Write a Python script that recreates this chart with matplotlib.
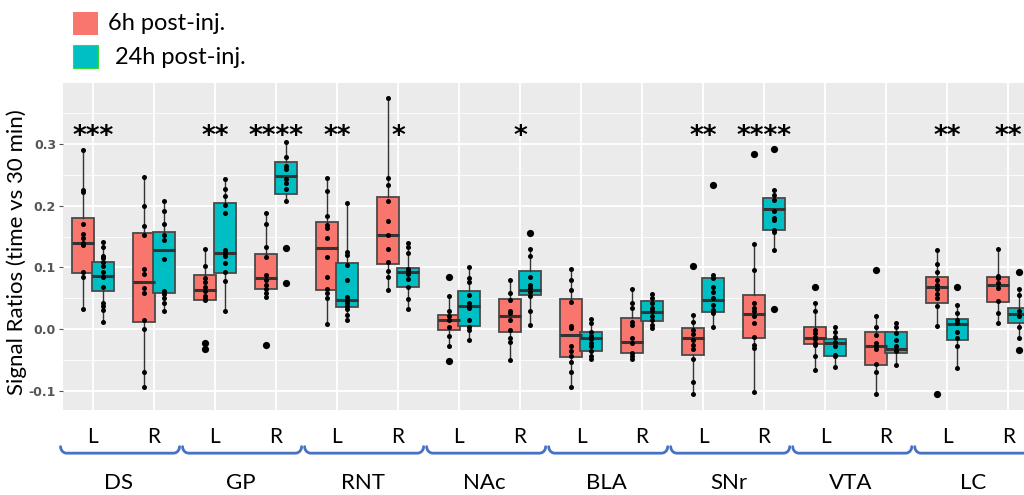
import numpy as np
import matplotlib.pyplot as plt
from matplotlib.patches import Rectangle
from matplotlib.lines import Line2D

regions = ["DS", "GP", "RNT", "NAc", "BLA", "SNr", "VTA", "LC"]
sides = ["L", "R"]
groups = ["6h post-inj.", "24h post-inj."]
colors = ["#F8766D", "#00BFC4"]

# box stats per category (DS L, DS R, GP L, ...): whislo, q1, median, q3, whishi
stats_6h = [
    [0.032, 0.091, 0.139, 0.181, 0.291],
    [-0.093, 0.011, 0.076, 0.156, 0.246],
    [0.0475, 0.0475, 0.063, 0.087, 0.130],
    [0.052, 0.065, 0.083, 0.122, 0.189],
    [0.008, 0.064, 0.132, 0.173, 0.245],
    [0.063, 0.106, 0.152, 0.214, 0.374],
    [-0.027, -0.002, 0.015, 0.023, 0.053],
    [-0.050, -0.004, 0.021, 0.049, 0.079],
    [-0.093, -0.045, -0.009, 0.049, 0.097],
    [-0.049, -0.039, -0.020, 0.018, 0.065],
    [-0.105, -0.042, -0.014, 0.002, 0.023],
    [-0.102, -0.015, 0.024, 0.055, 0.138],
    [-0.066, -0.024, -0.014, 0.004, 0.042],
    [-0.105, -0.058, -0.028, -0.005, 0.021],
    [0.005, 0.042, 0.069, 0.084, 0.128],
    [0.010, 0.044, 0.072, 0.084, 0.130],
]
stats_24h = [
    [0.011, 0.062, 0.086, 0.109, 0.142],
    [0.029, 0.059, 0.128, 0.157, 0.208],
    [0.030, 0.091, 0.124, 0.204, 0.243],
    [0.208, 0.219, 0.249, 0.271, 0.304],
    [0.015, 0.036, 0.048, 0.108, 0.204],
    [0.033, 0.068, 0.092, 0.099, 0.139],
    [-0.018, 0.005, 0.037, 0.062, 0.101],
    [0.006, 0.055, 0.064, 0.094, 0.130],
    [-0.049, -0.035, -0.014, -0.004, 0.016],
    [0.002, 0.014, 0.028, 0.045, 0.057],
    [0.003, 0.028, 0.048, 0.083, 0.088],
    [0.129, 0.161, 0.195, 0.212, 0.226],
    [-0.061, -0.043, -0.023, -0.016, 0.003],
    [-0.058, -0.038, -0.032, -0.005, 0.010],
    [-0.063, -0.018, 0.008, 0.016, 0.039],
    [-0.015, 0.010, 0.025, 0.035, 0.065],
]

# individual animals
points_6h = [
    [0.291, 0.226, 0.222, 0.170, 0.155, 0.147, 0.140, 0.136, 0.093, 0.084, 0.032],
    [0.246, 0.199, 0.167, 0.153, 0.098, 0.089, 0.066, 0.058, 0.015, 0.0, -0.069, -0.093],
    [0.130, 0.102, 0.083, 0.076, 0.069, 0.062, 0.053, 0.049, 0.047, -0.022, -0.032],
    [0.189, 0.171, 0.134, 0.117, 0.088, 0.080, 0.072, 0.065, 0.059, 0.052, -0.025],
    [0.245, 0.224, 0.183, 0.169, 0.164, 0.148, 0.117, 0.084, 0.065, 0.058, 0.050, 0.008],
    [0.374, 0.245, 0.234, 0.207, 0.176, 0.152, 0.130, 0.109, 0.095, 0.084, 0.063],
    [0.084, 0.053, 0.029, 0.022, 0.015, 0.004, -0.011, -0.027, -0.052],
    [0.079, 0.059, 0.048, 0.029, 0.026, 0.015, -0.001, -0.015, -0.020, -0.050],
    [0.097, 0.080, 0.064, 0.044, 0.005, 0.002, -0.028, -0.036, -0.044, -0.054, -0.070, -0.093],
    [0.065, 0.043, 0.034, 0.012, 0.007, -0.015, -0.023, -0.039, -0.044, -0.049],
    [0.102, 0.023, 0.012, -0.001, -0.008, -0.017, -0.025, -0.032, -0.049, -0.086, -0.105],
    [0.284, 0.138, 0.096, 0.042, 0.034, 0.029, 0.021, 0.010, -0.012, -0.025, -0.030, -0.102],
    [0.068, 0.042, 0.029, -0.002, -0.007, -0.012, -0.016, -0.022, -0.025, -0.043, -0.066],
    [0.096, 0.021, 0.003, -0.009, -0.023, -0.028, -0.032, -0.056, -0.069, -0.105],
    [0.128, 0.106, 0.092, 0.080, 0.072, 0.065, 0.057, 0.050, 0.038, 0.005, -0.105],
    [0.130, 0.086, 0.083, 0.075, 0.067, 0.045, 0.027, 0.010],
]
points_24h = [
    [0.142, 0.134, 0.119, 0.116, 0.109, 0.102, 0.092, 0.085, 0.069, 0.042, 0.037, 0.031, 0.011],
    [0.208, 0.192, 0.171, 0.153, 0.145, 0.113, 0.062, 0.057, 0.050, 0.042, 0.029],
    [0.243, 0.227, 0.216, 0.202, 0.189, 0.129, 0.123, 0.119, 0.107, 0.092, 0.078, 0.030],
    [0.304, 0.279, 0.265, 0.259, 0.243, 0.237, 0.227, 0.208, 0.132, 0.075],
    [0.204, 0.125, 0.121, 0.104, 0.080, 0.052, 0.047, 0.042, 0.037, 0.033, 0.023, 0.015],
    [0.139, 0.134, 0.123, 0.098, 0.095, 0.089, 0.081, 0.069, 0.049, 0.033],
    [0.101, 0.083, 0.076, 0.056, 0.042, 0.037, 0.034, 0.015, 0.004, -0.001, -0.018],
    [0.156, 0.130, 0.119, 0.085, 0.072, 0.067, 0.061, 0.054, 0.029, 0.006],
    [0.016, 0.010, -0.004, -0.011, -0.016, -0.023, -0.028, -0.036, -0.044, -0.049],
    [0.057, 0.050, 0.042, 0.034, 0.030, 0.021, 0.015, 0.007, 0.002],
    [0.233, 0.088, 0.083, 0.069, 0.061, 0.050, 0.039, 0.031, 0.026, 0.003],
    [0.292, 0.226, 0.218, 0.209, 0.191, 0.180, 0.177, 0.161, 0.158, 0.129, 0.033],
    [0.003, -0.004, -0.012, -0.020, -0.028, -0.042, -0.044, -0.061],
    [0.010, 0.004, -0.007, -0.017, -0.028, -0.034, -0.036, -0.058],
    [0.069, 0.039, 0.027, 0.015, 0.010, -0.004, -0.015, -0.028, -0.063],
    [0.092, 0.065, 0.056, 0.029, 0.021, 0.004, -0.015, -0.034],
]

stars = ["***", "", "**", "****", "**", "*", "", "*",
         "", "", "**", "****", "", "", "**", "**"]

plt.rcParams["font.family"] = ["Lato", "DejaVu Sans"]

fig = plt.figure(figsize=(10.24, 4.95), dpi=100)
ax = fig.add_axes([63 / 1024, 1 - 410 / 495, 1 - 63 / 1024, 327 / 495])
ax.set_facecolor("#EBEBEB")
for s in ax.spines.values():
    s.set_visible(False)

n_cat = len(regions) * len(sides)
cats = np.arange(n_cat)
offset, width = 0.17, 0.36

# grid
for y in np.arange(-0.15, 0.41, 0.05):
    major = abs(round(y / 0.1) * 0.1 - y) < 1e-6
    ax.axhline(y, color="white", lw=1.3 if major else 0.6, zorder=0)
for c in cats:
    ax.axvline(c, color="white", lw=1.3, zorder=0)

for g, (stats, pts) in enumerate([(stats_6h, points_6h), (stats_24h, points_24h)]):
    pos = cats + (-offset if g == 0 else offset)
    bxp_stats = []
    for st in stats:
        bxp_stats.append({"whislo": st[0], "q1": st[1], "med": st[2],
                          "q3": st[3], "whishi": st[4], "fliers": []})
    ax.bxp(bxp_stats, positions=pos, widths=width, patch_artist=True,
           showcaps=False, showfliers=False, manage_ticks=False,
           boxprops=dict(facecolor=colors[g], edgecolor="#4a4a4a", lw=1.3),
           medianprops=dict(color="#333333", lw=2.2),
           whiskerprops=dict(color="#333333", lw=1.0), zorder=2)
    for x, st, vals in zip(pos, stats, pts):
        vals = np.array(vals)
        out = (vals < st[0] - 1e-3) | (vals > st[4] + 1e-3)
        ax.plot(np.full((~out).sum(), x), vals[~out], "o", color="black",
                ms=3.6, mew=0, zorder=3)
        ax.plot(np.full(out.sum(), x), vals[out], "o", color="black",
                ms=5.2, mew=0, zorder=3)

for c, s in zip(cats, stars):
    if s:
        ax.text(c, 0.300, s, ha="center", va="baseline", fontsize=19,
                fontweight="bold", family="DejaVu Sans", zorder=4)

ax.set_xlim(-0.49, 15.26)
ax.set_ylim(-0.131, 0.399)
ax.set_yticks([-0.1, 0.0, 0.1, 0.2, 0.3])
ax.set_yticklabels(["-0.1", "0.0", "0.1", "0.2", "0.3"], family="DejaVu Sans",
                   fontsize=9, fontweight="bold", color="#555555")
ax.tick_params(axis="y", length=3, color="#555555", pad=2)
ax.set_xticks(cats)
ax.set_xticklabels(sides * len(regions), fontsize=15)
ax.tick_params(axis="x", length=0, pad=12)

fig.text(0.016, 0.49, "Signal Ratios (time vs 30 min)", rotation=90,
         ha="center", va="center", fontsize=16)

# region brackets
tr = ax.get_xaxis_transform()
y_base, y_up = -0.132, -0.112
for i, name in enumerate(regions):
    x0, x1 = 2 * i - 0.53, 2 * i + 1.42
    t = np.linspace(0, np.pi / 2, 8)
    r = 0.1
    left = np.c_[x0 + r - r * np.cos(t), y_base + (y_up - y_base) * (1 - np.sin(t))]
    right = np.c_[x1 - r + r * np.cos(t[::-1]), y_base + (y_up - y_base) * (1 - np.sin(t[::-1]))]
    path = np.vstack([left, right])
    ax.add_line(Line2D(path[:, 0], path[:, 1], transform=tr, color="#4472C4",
                       lw=2, clip_on=False, solid_capstyle="round"))
    ax.text(2 * i + 0.42, -0.223, name, transform=tr, ha="center", va="center",
            fontsize=16)

# legend
fig.add_artist(Rectangle((73 / 1024, 1 - 35 / 495), 25 / 1024, 23 / 495,
                         transform=fig.transFigure, facecolor=colors[0],
                         edgecolor="none"))
fig.add_artist(Rectangle((73 / 1024, 1 - 68 / 495), 25 / 1024, 23 / 495,
                         transform=fig.transFigure, facecolor=colors[1],
                         edgecolor="#33dd33", lw=0.8))
fig.text(108 / 1024, 1 - 23 / 495, groups[0], ha="left", va="center", fontsize=17)
fig.text(115 / 1024, 1 - 57 / 495, groups[1], ha="left", va="center", fontsize=17)

fig.savefig("out.png", dpi=100)
